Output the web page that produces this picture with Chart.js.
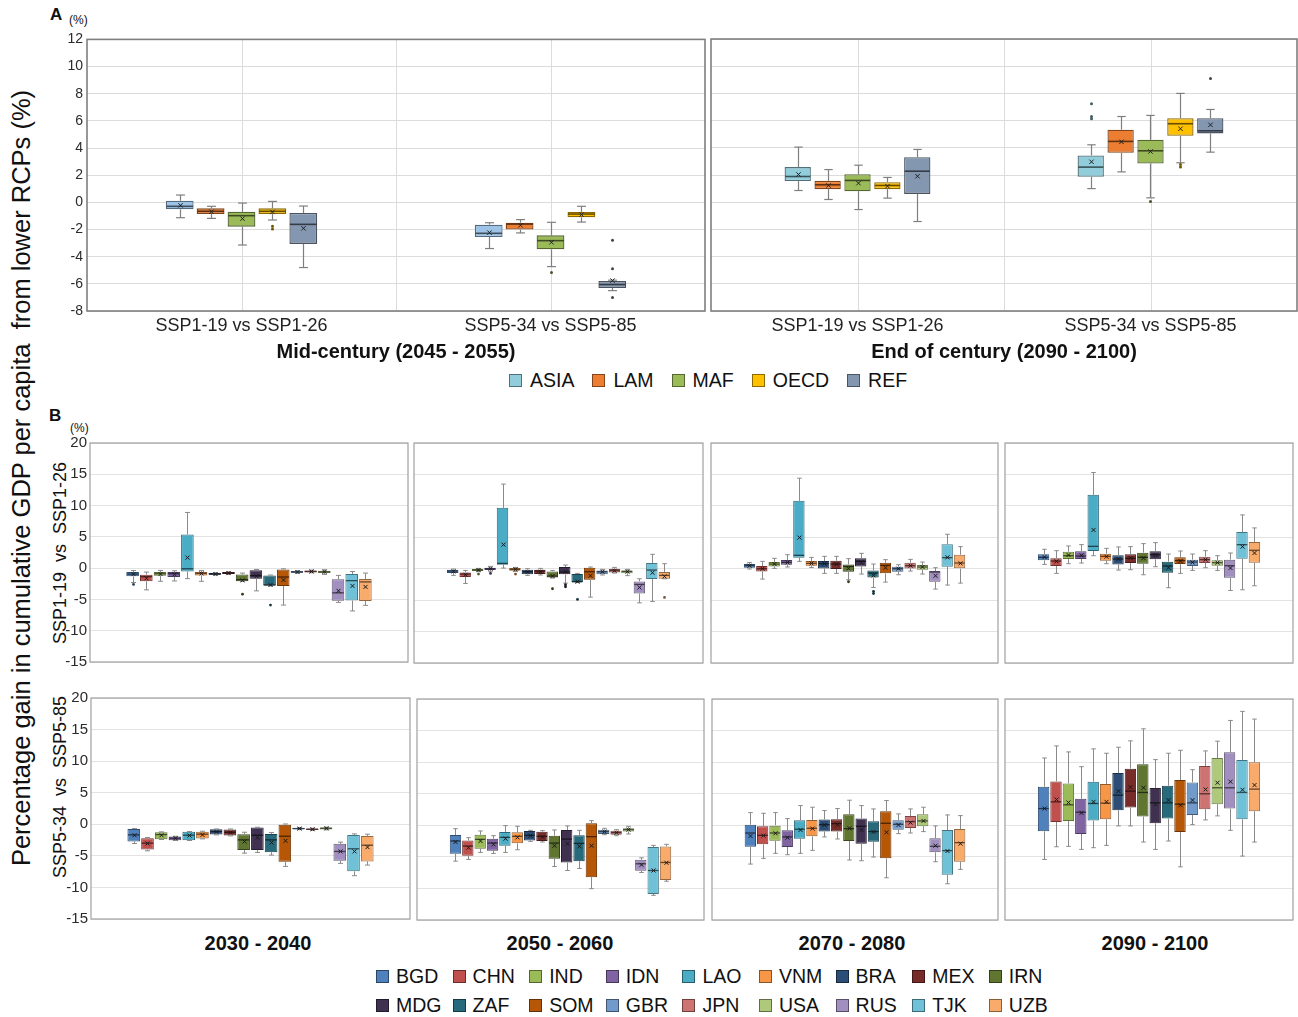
<!DOCTYPE html>
<html>
<head>
<meta charset="utf-8">
<script src="https://cdn.jsdelivr.net/npm/chart.js@4.4.0/dist/chart.umd.min.js"></script>
<style>
  body { margin: 0; background: #fff; font-family: "Liberation Sans", Arial, sans-serif; color: #111; }
  #fig { position: relative; width: 1298px; height: 1017px; overflow: hidden; background: #fff; }
  #fig canvas { position: absolute; }
  .t { position: absolute; white-space: nowrap; line-height: 1; }
  .rot { position: absolute; white-space: nowrap; text-align: center; transform: rotate(-90deg); transform-origin: 50% 50%; }
  .dec { position: absolute; width: 200px; text-align: center; font-weight: bold; font-size: 20px; line-height: 24px; color: #111; }
  .lg { position: absolute; display: flex; align-items: center; }
  .lg .it { display: flex; align-items: center; }
  .lg .sq { width: 11px; height: 11px; border: 1px solid #666; margin-right: 8px; box-sizing: content-box; }
</style>
</head>
<body>
<div id="fig">
  <div class="t" style="left:50px;top:6px;font-weight:bold;font-size:17px;">A</div>
  <div class="t" style="left:69px;top:14px;font-size:12px;">(%)</div>
  <div class="t" style="left:49px;top:407px;font-weight:bold;font-size:17px;">B</div>
  <div class="t" style="left:70px;top:422px;font-size:12px;">(%)</div>
  <div class="rot" id="yTitle" style="font-size:25.5px;width:860px;height:30px;line-height:30px;left:-409px;top:463px;">Percentage gain in cumulative GDP per capita&nbsp; from lower RCPs (%)</div>
  <div class="rot" style="font-size:18px;width:240px;height:22px;line-height:22px;left:-60px;top:542px;">SSP1-19&nbsp; vs&nbsp; SSP1-26</div>
  <div class="rot" style="font-size:18px;width:240px;height:22px;line-height:22px;left:-60px;top:776px;">SSP5-34&nbsp; vs&nbsp; SSP5-85</div>
  <div class="lg" id="legendA" style="left:509px;top:369px;font-size:19.5px;gap:18px;"></div>
  <div id="decades"></div>
  <div id="legendB"></div>
</div>
<script>
// ---------------- Panel A: regional aggregates ----------------
const REGIONS = ['ASIA', 'LAM', 'MAF', 'OECD', 'REF'];
const COMPARISONS = ['SSP1-19 vs SSP1-26', 'SSP5-34 vs SSP5-85'];
const PERIODS_A = ['Mid-century (2045 - 2055)', 'End of century (2090 - 2100)'];
const TICKS_A = [-8, -6, -4, -2, 0, 2, 4, 6, 8, 10, 12];

// rows: [lower whisker, Q1, median, Q3, upper whisker, mean], one row per comparison
const MID_ASIA = [[-1.13, -0.51, -0.29, 0.12, 0.54, -0.22], [-3.4, -2.55, -2.28, -1.64, -1.5, -2.23]];
const MID_LAM  = [[-1.18, -0.86, -0.66, -0.44, -0.29, -0.69], [-2.25, -2.0, -1.6, -1.5, -1.27, -1.69]];
const MID_MAF  = [[-3.14, -1.79, -0.98, -0.69, -0.05, -1.2], [-4.73, -3.46, -2.82, -2.43, -1.47, -2.94]];
const MID_OECD = [[-1.3, -0.86, -0.66, -0.44, 0.07, -0.71], [-1.45, -1.1, -0.86, -0.71, -0.29, -0.9]];
const MID_REF  = [[-4.8, -3.06, -1.62, -0.78, -0.27, -1.91], [-6.5, -6.3, -6.05, -5.8, -5.73, -5.76]];
// outliers: [region index, comparison index, value]
const MID_OUT = [[3, 0, -1.76], [3, 0, -1.96], [2, 1, -5.17], [4, 1, -2.79], [4, 1, -4.88], [4, 1, -7.0]];

const END_ASIA = [[0.86, 1.55, 1.89, 2.58, 4.05, 2.04], [1.0, 1.87, 2.58, 3.44, 4.22, 2.97]];
const END_LAM  = [[0.2, 0.96, 1.28, 1.57, 2.4, 1.23], [2.23, 3.63, 4.47, 5.33, 6.3, 4.44]];
const END_MAF  = [[-0.54, 0.81, 1.6, 2.06, 2.72, 1.4], [0.32, 2.85, 3.78, 4.59, 6.38, 3.73]];
const END_OECD = [[0.3, 0.96, 1.23, 1.47, 1.82, 1.18], [2.9, 4.88, 5.77, 6.18, 8.0, 5.4]];
const END_REF  = [[-1.42, 0.61, 2.28, 3.31, 3.88, 1.91], [3.68, 5.06, 5.25, 6.18, 6.82, 5.69]];
const END_OUT = [[0, 1, 7.24], [0, 1, 6.3], [0, 1, 6.13], [2, 1, 0.05], [3, 1, 2.77], [3, 1, 2.58], [4, 1, 9.1]];

const COLORS_MID = ['#9DC3E6', '#ED7D31', '#9BBB59', '#FFC000', '#8497B0'];
const COLORS_END = ['#92CDDC', '#ED7D31', '#9BBB59', '#FFC000', '#8497B0'];

// ---------------- Panel B: countries ----------------
const COUNTRIES = ['BGD', 'CHN', 'IND', 'IDN', 'LAO', 'VNM', 'BRA', 'MEX', 'IRN',
                   'MDG', 'ZAF', 'SOM', 'GBR', 'JPN', 'USA', 'RUS', 'TJK', 'UZB'];
const DECADES = ['2030 - 2040', '2050 - 2060', '2070 - 2080', '2090 - 2100'];
const TICKS_B = [-15, -10, -5, 0, 5, 10, 15, 20];
const COLORS_B = ['#4F81BD', '#C0504D', '#9BBB59', '#8064A2', '#4BACC6', '#F79646', '#2C4D75', '#772C2A', '#5F7530',
                  '#403151', '#276A7C', '#B65708', '#729ACA', '#CD7371', '#AFC97A', '#A18FBF', '#6FC1D8', '#F9AB6B'];

// rows per country: [lower whisker, Q1, median, Q3, upper whisker, mean]
const SSP1_2030 = [
  [-2.3, -1.3, -0.95, -0.63, -0.37, -0.95], [-3.47, -2.1, -1.37, -1.05, -0.63, -1.63], [-2.1, -1.2, -0.9, -0.63, -0.37, -0.95],
  [-2.05, -1.42, -0.9, -0.63, -0.42, -1.0], [-1.68, -0.53, -0.1, 5.37, 8.9, 1.68], [-2.1, -1.16, -0.84, -0.63, -0.37, -0.84],
  [-1.1, -1.05, -0.95, -0.79, -0.74, -0.95], [-1.0, -0.95, -0.79, -0.63, -0.58, -0.79], [-2.1, -2.1, -1.84, -1.0, -0.79, -1.95],
  [-3.63, -1.68, -1.2, -0.32, -0.21, -1.3], [-2.84, -2.79, -2.68, -1.16, -1.1, -2.68], [-5.9, -2.84, -1.42, -0.21, -0.1, -1.9],
  [-0.79, -0.74, -0.63, -0.47, -0.42, -0.63], [-0.74, -0.68, -0.53, -0.37, -0.32, -0.53], [-1.0, -0.79, -0.58, -0.42, -0.26, -0.58],
  [-5.47, -5.2, -3.95, -1.79, -1.16, -3.63], [-6.84, -5.16, -2.0, -0.95, -0.53, -2.84], [-5.95, -5.26, -2.2, -1.74, -0.79, -3.0]
];
const SSP1_2050 = [
  [-1.06, -0.69, -0.37, -0.16, -0.05, -0.43], [-2.34, -1.33, -0.85, -0.59, -0.27, -0.96], [-0.48, -0.37, -0.21, -0.05, 0.05, -0.21],
  [-0.48, -0.21, 0, 0.16, 0.37, 0], [0.1, 0.64, 0.85, 9.68, 13.46, 3.83], [-0.43, -0.32, -0.1, 0.1, 0.21, -0.1],
  [-1.06, -0.9, -0.48, -0.16, 0, -0.53], [-1.0, -0.85, -0.37, -0.16, 0.05, -0.48], [-1.49, -1.38, -1.17, -0.43, -0.27, -1.17],
  [-2.29, -0.9, -0.53, 0.27, 0.59, -0.48], [-2.18, -2.13, -2.07, -0.85, -0.74, -2.07], [-4.52, -1.76, -0.48, 0.16, 0.27, -1.12],
  [-1.0, -0.9, -0.48, -0.27, -0.1, -0.48], [-0.69, -0.59, -0.32, -0.05, 0.21, -0.32], [-1.1, -0.74, -0.43, -0.27, -0.1, -0.48],
  [-5.43, -3.94, -2.5, -2.02, -1.6, -2.98], [-5.21, -1.65, -0.21, 0.9, 2.29, -0.64], [-1.6, -1.6, -1.06, -0.53, 0.8, -1.22]
];
const SSP1_2070 = [
  [-0.05, 0.16, 0.48, 0.74, 1.0, 0.48], [-1.65, -0.43, 0, 0.43, 1.17, 0], [0.05, 0.37, 0.74, 1.06, 1.65, 0.74],
  [0.27, 0.64, 1.0, 1.38, 2.23, 1.0], [1.17, 1.76, 2.13, 10.8, 14.4, 4.95], [0.2, 0.48, 0.85, 1.22, 1.8, 0.85],
  [-0.74, 0.05, 0.8, 1.22, 1.97, 0.8], [-0.74, -0.05, 0.74, 1.28, 1.97, 0.74], [-1.76, -0.48, 0.37, 0.69, 1.6, 0.05],
  [-0.85, 0.37, 1.17, 1.65, 2.45, 1.0], [-2.98, -1.38, -0.69, -0.27, 0.74, -1.06], [-2.13, -0.74, 0.53, 0.96, 1.44, 0.16],
  [-0.96, -0.48, 0, 0.32, 0.64, 0], [-0.37, 0.05, 0.48, 0.96, 1.49, 0.48], [-0.85, -0.16, 0.27, 0.59, 1.06, 0.27],
  [-3.24, -2.07, -0.53, -0.37, 0.16, -1.12], [-2.6, 0.32, 1.76, 3.88, 5.48, 1.81], [-2.29, 0, 0.9, 2.23, 3.51, 0.85]
];
const SSP1_2090 = [
  [0.69, 1.33, 1.81, 2.29, 3.09, 1.86], [-0.74, 0.43, 1.22, 1.65, 2.87, 1.17], [0.8, 1.54, 2.07, 2.71, 3.62, 2.18],
  [0.9, 1.54, 2.02, 2.77, 3.83, 2.13], [2.07, 2.82, 3.56, 11.76, 15.3, 6.17], [0.8, 1.28, 1.97, 2.39, 3.24, 1.91],
  [-0.21, 0.69, 1.54, 2.13, 3.46, 1.54], [-0.16, 0.9, 1.65, 2.29, 3.51, 1.7], [-0.96, 0.8, 1.81, 2.55, 3.99, 1.7],
  [0.32, 1.49, 2.23, 2.77, 4.15, 2.18], [-3.03, -0.64, 0.43, 1.12, 2.34, 0.16], [-0.74, 0.74, 1.28, 1.81, 2.82, 1.22],
  [-0.27, 0.43, 1.06, 1.44, 2.34, 1.01], [0.16, 0.9, 1.44, 1.91, 2.87, 1.44], [-0.27, 0.48, 0.96, 1.33, 2.07, 0.96],
  [-3.46, -1.44, 0.48, 1.44, 2.5, 0.11], [-3.35, 1.6, 3.83, 5.85, 8.56, 3.51], [-2.71, 0.96, 2.93, 4.26, 6.49, 2.5]
];
const SSP5_2030 = [
  [-3.04, -2.73, -1.68, -0.73, -0.68, -1.73], [-4.2, -3.99, -2.99, -2.2, -2.1, -3.04], [-2.41, -2.36, -1.63, -1.26, -1.2, -1.73],
  [-2.57, -2.52, -2.2, -1.94, -1.89, -2.2], [-2.57, -2.52, -1.73, -1.2, -1.15, -1.78], [-2.31, -2.26, -1.57, -1.2, -1.1, -1.68],
  [-1.68, -1.63, -1.15, -0.79, -0.74, -1.2], [-1.84, -1.78, -1.26, -0.84, -0.74, -1.31], [-4.57, -4.09, -2.47, -1.57, -1.26, -2.73],
  [-4.46, -4.09, -1.73, -0.52, -0.47, -2.1], [-4.88, -4.41, -2.47, -1.52, -1.31, -2.89], [-6.67, -5.93, -1.89, 0, 0.05, -2.62],
  [-0.84, -0.79, -0.68, -0.58, -0.52, -0.68], [-0.95, -0.89, -0.79, -0.68, -0.63, -0.79], [-0.89, -0.84, -0.63, -0.52, -0.47, -0.63],
  [-6.19, -5.77, -4.3, -3.1, -2.83, -4.3], [-8.14, -7.45, -3.88, -1.68, -1.52, -4.3], [-6.46, -5.88, -3.31, -1.84, -1.57, -3.62]
];
const SSP5_2050 = [
  [-5.68, -4.51, -2.49, -1.54, -0.53, -2.65], [-5.41, -4.83, -3.29, -2.39, -1.96, -3.55], [-4.3, -3.71, -2.23, -1.49, -0.9, -2.49],
  [-4.46, -4.03, -2.81, -2.12, -1.64, -3.02], [-4.3, -3.24, -1.91, -1.06, -0.05, -2.12], [-3.87, -2.86, -1.75, -1.11, -0.16, -1.91],
  [-2.55, -2.39, -1.59, -0.9, -0.8, -1.64], [-2.65, -2.49, -1.75, -1.01, -0.85, -1.86], [-6.53, -5.31, -2.81, -1.64, -0.74, -3.24],
  [-7.16, -5.89, -2.18, -0.74, -0.1, -2.92], [-6.84, -5.68, -2.86, -1.59, -0.8, -3.34], [-10.03, -8.22, -1.8, 0.32, 0.74, -3.24],
  [-1.49, -1.38, -1.0, -0.69, -0.48, -1.0], [-1.65, -1.49, -1.17, -0.85, -0.69, -1.17], [-1.38, -1.0, -0.69, -0.48, -0.16, -0.69],
  [-7.48, -7.21, -6.1, -5.46, -5.15, -6.26], [-11.09, -10.88, -7.16, -3.45, -3.18, -7.16], [-8.86, -8.65, -5.89, -3.34, -3.02, -5.94]
];
const SSP5_2070 = [
  [-6.14, -3.39, -1.22, 0.1, 2.01, -1.69], [-5.24, -3.02, -1.59, -0.16, 1.9, -1.64], [-4.44, -2.43, -1.22, 0, 2.01, -1.27],
  [-4.66, -3.44, -1.85, -0.79, 1.06, -1.96], [-4.44, -2.12, -0.63, 0.79, 3.12, -0.74], [-3.97, -1.75, -0.48, 0.85, 2.86, -0.53],
  [-1.85, -1.0, 0.1, 0.9, 2.33, 0.05], [-2.17, -1.0, 0.26, 0.95, 2.65, 0.1], [-5.5, -2.49, -0.53, 1.75, 3.97, -0.48],
  [-5.61, -2.91, -0.16, 1.06, 3.12, -0.74], [-5.03, -2.59, -1.0, 0.63, 2.59, -1.06], [-8.31, -5.24, 0.32, 2.22, 3.92, -1.11],
  [-1.32, -0.69, 0.16, 0.79, 1.8, 0.05], [-1.22, -0.42, 0.58, 1.48, 2.59, 0.42], [-1.0, -0.16, 0.69, 1.75, 2.86, 0.69],
  [-5.77, -4.29, -3.33, -2.06, -0.1, -3.23], [-9.26, -7.83, -4.02, -0.74, 1.64, -4.07], [-6.98, -5.77, -2.75, -0.58, 1.53, -2.91]
];
const SSP5_2090 = [
  [-5.41, -0.95, 2.65, 6.1, 10.66, 2.65], [-3.4, 0.53, 3.71, 6.95, 12.57, 4.08], [-3.34, 0.69, 3.24, 6.63, 11.62, 3.61],
  [-3.82, -1.38, 2.07, 4.19, 9.28, 1.96], [-3.55, 0.74, 3.45, 6.9, 12.1, 3.71], [-3.18, 0.95, 3.5, 6.53, 11.41, 3.71],
  [-0.1, 2.39, 4.77, 8.28, 12.36, 5.41], [-0.1, 2.81, 5.41, 8.97, 13.37, 6.05], [-2.65, 1.38, 5.2, 9.66, 15.28, 5.94],
  [-3.82, 0.32, 3.55, 5.89, 10.4, 3.34], [-2.49, 1.06, 3.55, 6.26, 11.41, 3.98], [-6.58, -1.06, 3.34, 7.16, 11.88, 3.18],
  [0.1, 1.64, 3.55, 6.79, 8.81, 3.98], [0.85, 2.55, 4.99, 9.39, 11.78, 5.68], [1.49, 3.34, 5.94, 10.66, 13.32, 6.74],
  [-0.8, 2.65, 5.94, 11.56, 16.6, 6.9], [-4.88, 0.95, 5.2, 10.34, 18.04, 5.62], [-2.65, 2.23, 5.73, 9.97, 16.82, 6.37]
];
// outliers: [country index, value]
const SSP1_2030_OUT = [[0, -2.6], [8, -4.16], [10, -5.9]];
const SSP1_2050_OUT = [[2, -0.85], [3, -0.75], [5, -0.85], [8, -3.19], [9, -2.55], [9, -2.87], [10, -4.89], [17, -4.57]];
const SSP1_2070_OUT = [[8, -2.07], [10, -3.6], [10, -3.94]];
const SSP1_2090_OUT = [];
const SSP5_2030_OUT = [];
const SSP5_2050_OUT = [];
const SSP5_2070_OUT = [];
const SSP5_2090_OUT = [];

// ---------------- drawing helpers ----------------
Chart.defaults.font.family = '"Liberation Sans", Arial, sans-serif';
Chart.defaults.color = '#333';

function shade(hex, f) {
  const n = parseInt(hex.slice(1), 16);
  const r = Math.round(((n >> 16) & 255) * f), g = Math.round(((n >> 8) & 255) * f), b = Math.round((n & 255) * f);
  return 'rgb(' + r + ',' + g + ',' + b + ')';
}

// draws whiskers, medians, means and outliers on top of the Q1–Q3 floating bars
const boxWhiskerPlugin = {
  id: 'boxWhisker',
  beforeDatasetsDraw(chart, args, o) {
    if (!o.vGrid) return;
    const { ctx, chartArea: { top, bottom }, scales: { x } } = chart;
    const n = chart.data.labels.length;
    const xs = [];
    for (let i = 0; i < n; i++) {
      xs.push(x.getPixelForValue(i));
      if (i < n - 1) xs.push((x.getPixelForValue(i) + x.getPixelForValue(i + 1)) / 2);
    }
    ctx.save();
    ctx.strokeStyle = o.gridColor;
    ctx.lineWidth = 1;
    xs.forEach(px => {
      const xx = Math.round(px) + 0.5;
      ctx.beginPath(); ctx.moveTo(xx, top); ctx.lineTo(xx, bottom); ctx.stroke();
    });
    ctx.restore();
  },
  afterDatasetsDraw(chart, args, o) {
    const { ctx, scales: { y } } = chart;
    const py = v => y.getPixelForValue(v);
    const seg = (x1, y1, x2, y2) => { ctx.beginPath(); ctx.moveTo(x1, y1); ctx.lineTo(x2, y2); ctx.stroke(); };
    ctx.save();
    chart.data.datasets.forEach((ds, di) => {
      const meta = chart.getDatasetMeta(di);
      meta.data.forEach((bar, i) => {
        const s = ds.stats[i];
        if (!s) return;
        const [lo, q1, med, q3, hi, mean] = s;
        const cx = Math.round(bar.x) + 0.5, w = bar.width, cap = w * o.capRatio / 2;
        ctx.strokeStyle = o.whiskerColor; ctx.lineWidth = o.whiskerWidth;
        seg(cx, py(q3), cx, py(hi)); seg(cx - cap, py(hi), cx + cap, py(hi));
        seg(cx, py(q1), cx, py(lo)); seg(cx - cap, py(lo), cx + cap, py(lo));
        ctx.strokeStyle = ds.medianColor; ctx.lineWidth = o.medianWidth;
        seg(bar.x - w / 2 + 0.5, py(med), bar.x + w / 2 - 0.5, py(med));
        const m = o.meanSize, my = py(mean);
        ctx.strokeStyle = o.meanColor; ctx.lineWidth = 1;
        seg(cx - m, my - m, cx + m, my + m); seg(cx - m, my + m, cx + m, my - m);
        ctx.fillStyle = ds.outlierColor;
        (ds.outliers[i] || []).forEach(v => {
          ctx.beginPath(); ctx.arc(cx, py(v), o.outlierRadius, 0, Math.PI * 2); ctx.fill();
        });
      });
    });
    ctx.restore();
  },
  afterDraw(chart, args, o) {
    const { ctx, chartArea: { left, top, right, bottom } } = chart;
    ctx.save();
    ctx.strokeStyle = o.frameColor; ctx.lineWidth = o.frameWidth;
    ctx.strokeRect(left, top, right - left, bottom - top);
    ctx.restore();
  }
};

const fig = document.getElementById('fig');

function drawPanel(cfg) {
  const [L, T, R, B] = cfg.plot;
  const padL = 2, padR = 1, padT = 12, padB = cfg.xAxisH ? 0 : 10;
  const cv = document.createElement('canvas');
  cv.width = cfg.yAxisW + (R - L) + padL + padR;
  cv.height = padT + (B - T) + (cfg.xAxisH || 0) + padB;
  cv.style.left = (L - cfg.yAxisW - padL) + 'px';
  cv.style.top = (T - padT) + 'px';
  fig.appendChild(cv);
  const ticks = cfg.ticks;
  new Chart(cv, {
    type: 'bar',
    data: { labels: cfg.labels, datasets: cfg.datasets },
    plugins: [boxWhiskerPlugin],
    options: {
      responsive: false,
      animation: false,
      devicePixelRatio: 1,
      layout: { padding: { left: padL, right: padR, top: padT, bottom: padB } },
      datasets: { bar: { categoryPercentage: cfg.catPct, barPercentage: cfg.barPct } },
      plugins: {
        legend: { display: false },
        tooltip: { enabled: false },
        boxWhisker: cfg.style
      },
      scales: {
        x: {
          display: !!cfg.xAxisH,
          offset: true,
          grid: { display: false, drawTicks: false },
          border: { display: false },
          ticks: { display: !!cfg.xTicks, font: { size: 18 }, color: '#222', padding: 4, maxRotation: 0, autoSkip: false },
          title: { display: !!cfg.xTitle, text: cfg.xTitle, font: { size: 20, weight: 'bold' }, color: '#111', padding: { top: 0, bottom: 0 } },
          afterFit: s => { s.height = cfg.xAxisH || 0; }
        },
        y: {
          min: ticks[0],
          max: ticks[ticks.length - 1],
          ticks: { display: cfg.showY, stepSize: ticks[1] - ticks[0], font: { size: cfg.tickSize }, color: '#2a2a2a', padding: cfg.tickPad },
          grid: { color: cfg.style.gridColor, lineWidth: 1, drawTicks: false },
          border: { display: false },
          afterFit: s => { s.width = cfg.yAxisW; }
        }
      }
    }
  });
}

// ---------------- panel A ----------------
const STYLE_A = { vGrid: true, gridColor: '#dcdcdc', whiskerColor: '#7f7f7f', whiskerWidth: 1.2, medianWidth: 1.6,
  meanColor: '#222', meanSize: 2.2, outlierRadius: 1.5, capRatio: 0.32, frameColor: '#7f7f7f', frameWidth: 1.6 };

function regionDatasets(rows, outs, colors) {
  return rows.map((r, ri) => {
    const outliers = COMPARISONS.map((c, k) => outs.filter(o => o[0] === ri && o[1] === k).map(o => o[2]));
    return {
      label: REGIONS[ri],
      data: r.map(s => [s[1], s[3]]),
      stats: r,
      outliers: outliers,
      backgroundColor: colors[ri],
      borderColor: shade(colors[ri], 0.55),
      medianColor: shade(colors[ri], 0.4),
      outlierColor: shade(colors[ri], 0.45),
      borderWidth: 1.3,
      borderSkipped: false
    };
  });
}

drawPanel({ plot: [87, 39, 705, 311], yAxisW: 47, showY: true, tickSize: 14, tickPad: 4, ticks: TICKS_A,
  labels: COMPARISONS, xAxisH: 53, xTicks: true, xTitle: PERIODS_A[0], catPct: 0.5, barPct: 0.9, style: STYLE_A,
  datasets: regionDatasets([MID_ASIA, MID_LAM, MID_MAF, MID_OECD, MID_REF], MID_OUT, COLORS_MID) });
drawPanel({ plot: [711, 39, 1297, 311], yAxisW: 0, showY: false, tickSize: 14, tickPad: 4, ticks: TICKS_A,
  labels: COMPARISONS, xAxisH: 53, xTicks: true, xTitle: PERIODS_A[1], catPct: 0.51, barPct: 0.88, style: STYLE_A,
  datasets: regionDatasets([END_ASIA, END_LAM, END_MAF, END_OECD, END_REF], END_OUT, COLORS_END) });

// ---------------- panel B ----------------
const STYLE_B = { vGrid: false, gridColor: '#e3e3e3', whiskerColor: '#8a8a8a', whiskerWidth: 1, medianWidth: 1.3,
  meanColor: '#1a1a1a', meanSize: 2, outlierRadius: 1.4, capRatio: 0.4, frameColor: '#a0a0a0', frameWidth: 1.2 };

function countryDatasets(rows, outs) {
  return rows.map((s, ci) => ({
    label: COUNTRIES[ci],
    data: [[s[1], s[3]]],
    stats: [s],
    outliers: [outs.filter(o => o[0] === ci).map(o => o[1])],
    backgroundColor: COLORS_B[ci],
    borderColor: shade(COLORS_B[ci], 0.6),
    medianColor: shade(COLORS_B[ci], 0.4),
    outlierColor: shade(COLORS_B[ci], 0.5),
    borderWidth: 1,
    borderSkipped: false
  }));
}

const ROW1 = [[SSP1_2030, SSP1_2030_OUT, [90, 443, 408, 664]], [SSP1_2050, SSP1_2050_OUT, [414, 443, 703, 663]],
              [SSP1_2070, SSP1_2070_OUT, [711, 443, 998, 663]], [SSP1_2090, SSP1_2090_OUT, [1005, 443, 1293, 663]]];
const ROW2 = [[SSP5_2030, SSP5_2030_OUT, [91, 698, 410, 921]], [SSP5_2050, SSP5_2050_OUT, [417, 699, 704, 920]],
              [SSP5_2070, SSP5_2070_OUT, [712, 699, 998, 920]], [SSP5_2090, SSP5_2090_OUT, [1005, 699, 1293, 920]]];

[ROW1, ROW2].forEach(row => row.forEach(([rows, outs, plot], k) => drawPanel({ plot, yAxisW: k === 0 ? 51 : 0, showY: k === 0,
  tickSize: 15, tickPad: 3, ticks: TICKS_B, labels: [DECADES[k]], xAxisH: 0, catPct: 0.775, barPct: 0.92, style: STYLE_B,
  datasets: countryDatasets(rows, outs) })));

// decade headings under the second row of panel B
const DECADE_CENTERS = [258, 560, 852, 1155];
const decBox = document.getElementById('decades');
DECADES.forEach((d, k) => {
  const el = document.createElement('div');
  el.className = 'dec';
  el.style.left = (DECADE_CENTERS[k] - 100) + 'px';
  el.style.top = '931px';
  el.textContent = d;
  decBox.appendChild(el);
});

// ---------------- legends ----------------
const legA = document.getElementById('legendA');
REGIONS.forEach((r, i) => {
  const it = document.createElement('div');
  it.className = 'it';
  it.innerHTML = '<span class="sq" style="background:' + COLORS_END[i] + ';border-color:' + shade(COLORS_END[i], 0.55) + '"></span><span>' + r + '</span>';
  legA.appendChild(it);
});
const legB = document.getElementById('legendB');
COUNTRIES.forEach((c, i) => {
  const it = document.createElement('div');
  it.className = 'lg';
  it.style.left = (376 + (i % 9) * 76.6) + 'px';
  it.style.top = (i < 9 ? 965 : 994) + 'px';
  it.style.fontSize = '19.5px';
  it.innerHTML = '<span class="sq" style="background:' + COLORS_B[i] + ';border-color:' + shade(COLORS_B[i], 0.55) + ';margin-right:7px"></span><span>' + c + '</span>';
  legB.appendChild(it);
});
</script>
</body>
</html>
